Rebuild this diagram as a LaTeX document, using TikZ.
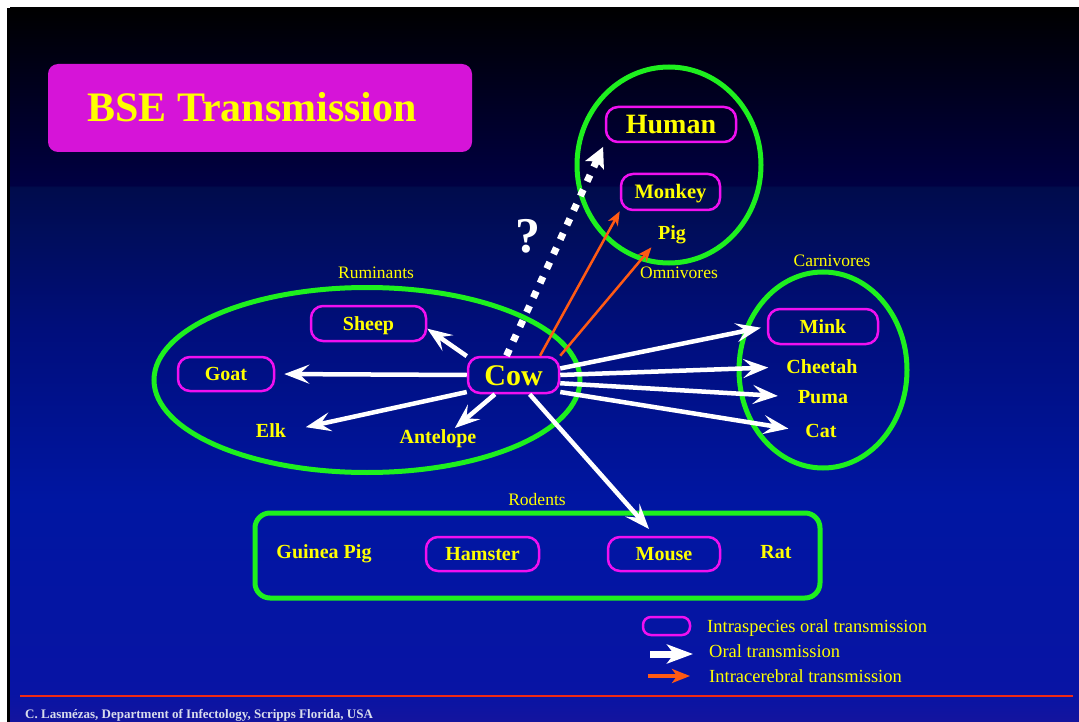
\documentclass[tikz,border=0pt]{standalone}
\usepackage{fontspec}
\setmainfont{Liberation Serif}
\usetikzlibrary{arrows.meta,shapes.geometric}
\definecolor{ylw}{HTML}{FFFF00}
\definecolor{mag}{HTML}{F010F0}
\definecolor{grn}{HTML}{1EF01E}
\definecolor{org}{HTML}{FF5A14}
\definecolor{ttl}{HTML}{D614D8}
\definecolor{redline}{HTML}{F02A14}
\definecolor{foot}{HTML}{D8DCEC}
\definecolor{bA}{HTML}{14149E}
\definecolor{bB}{HTML}{0814A4}
\definecolor{bC}{HTML}{0016A2}
\definecolor{bD}{HTML}{000E7C}
\definecolor{bE}{HTML}{000C4C}
\definecolor{bF}{HTML}{000042}
\definecolor{bG}{HTML}{000000}
\pgfdeclareverticalshading{slidebg}{100bp}{color(0bp)=(bA); color(25bp)=(bA); color(27bp)=(bB); color(40.5bp)=(bC); color(52.4bp)=(bD); color(62.45bp)=(bE); color(62.6bp)=(bF); color(75bp)=(bG); color(100bp)=(bG)}
\tikzset{
  grp/.style={draw=grn, line width=5pt},
  spbox/.style={draw=mag, line width=2.5pt, rounded corners=12pt, inner sep=0pt, text=ylw,
    font=\bfseries\fontsize{20}{24}\selectfont, text height=13.5pt, text depth=0pt},
  animal/.style={text=ylw, font=\bfseries\fontsize{20}{24}\selectfont, inner sep=2pt,
    text height=13.5pt, text depth=0pt},
  grplabel/.style={text=ylw, font=\fontsize{17.5}{20}\selectfont, inner sep=1pt,
    text height=12pt, text depth=0pt},
  legtext/.style={text=ylw, font=\fontsize{18.5}{20}\selectfont, inner sep=0pt, anchor=west,
    text height=12pt, text depth=0pt},
  oral/.style={draw=white, line width=4.5pt, -{Stealth[length=25pt,width=19pt,inset=10pt]}},
  icarrow/.style={draw=org, line width=2.5pt, -{Stealth[length=14pt,width=11pt,inset=4pt]}},
  dotarrow/.style={draw=white, line width=7pt, dash pattern=on 7pt off 9pt,
    -{Stealth[length=20pt,width=20pt,inset=4pt]}}
}
\begin{document}
\begin{tikzpicture}[x=1pt,y=-1pt]
\useasboundingbox (0,0) rectangle (1079,722);
\fill[white] (0,0) rectangle (1079,722);
\fill[black] (7,8) rectangle (1079,722);
\shade[shading=slidebg] (10,8) rectangle (1079,722);

% title
\node[fill=ttl, rounded corners=10pt, minimum width=424pt, minimum height=88pt, inner sep=0pt,
  text=ylw, font=\bfseries\fontsize{42}{44}\selectfont, text height=27.5pt, text depth=0pt]
  (title) at (260,108) {BSE Transmission\hspace*{16pt}};

% groups
\node[grp, ellipse, minimum width=184pt, minimum height=196pt, inner sep=0pt] (omni) at (669,165) {};
\node[grp, ellipse, minimum width=426pt, minimum height=185pt, inner sep=0pt] (rumin) at (367,380) {};
\node[grp, ellipse, minimum width=168pt, minimum height=196pt, inner sep=0pt] (carni) at (823,370) {};
\node[grp, rounded corners=15pt, minimum width=565pt, minimum height=85pt, inner sep=0pt] (rodents) at (537.5,555.5) {};

\node[grplabel] (lomni) at (679,272) {Omnivores};
\node[grplabel] (lrumin) at (376,272) {Ruminants};
\node[grplabel] (lcarni) at (832,260) {Carnivores};
\node[grplabel] (lrod) at (537,499) {Rodents};

% omnivores
\node[spbox, minimum width=130pt, minimum height=35pt, font=\bfseries\fontsize{28}{30}\selectfont,
  text height=18.5pt] (human) at (671,124.5) {Human};
\node[spbox, minimum width=99pt, minimum height=36pt, font=\bfseries\fontsize{20.5}{24}\selectfont] (monkey) at (670.5,192) {Monkey};
\node[animal] (pig) at (672,233) {Pig};

% ruminants
\node[spbox, minimum width=91pt, minimum height=36pt, font=\bfseries\fontsize{30}{32}\selectfont,
  text height=20pt] (cow) at (513.5,375) {Cow};
\node[spbox, minimum width=115pt, minimum height=35pt] (sheep) at (368.5,323.5) {Sheep};
\node[spbox, minimum width=96pt, minimum height=34pt] (goat) at (226,374) {Goat};
\node[animal] (elk) at (271,431) {Elk};
\node[animal] (antelope) at (438,437) {Antelope};

% carnivores
\node[spbox, minimum width=110pt, minimum height=35pt] (mink) at (823,326.5) {Mink};
\node[animal] (cheetah) at (822,367) {Cheetah};
\node[animal] (puma) at (823,397) {Puma};
\node[animal] (cat) at (821,431) {Cat};

% rodents
\node[animal] (guinea) at (324,552) {Guinea Pig};
\node[spbox, minimum width=113pt, minimum height=34pt] (hamster) at (482.5,554) {Hamster};
\node[spbox, minimum width=112pt, minimum height=34pt] (mouse) at (664,554) {Mouse};
\node[animal] (rat) at (776,552) {Rat};

% question mark
\node[text=white, font=\bfseries\fontsize{50}{50}\selectfont, inner sep=0pt, text height=34pt, text depth=0pt]
  (qm) at (528,236) {?};

% oral transmission arrows
\draw[oral] (cow.158) -- (sheep.-5);
\draw[oral, shorten >=9pt] (cow.west) -- (goat.east);
\draw[oral, shorten >=18pt] (cow.200) -- (elk.east);
\draw[oral] (cow.-134) -- (antelope.28);
\draw[oral, shorten >=9pt] (cow.-50) -- ([xshift=-9pt]mouse.north);
\draw[oral, shorten >=6pt] (cow.8) -- (mink.west);
\draw[oral, shorten >=16pt] (cow.east) -- (cheetah.west);
\draw[oral, shorten >=18pt] (cow.-10) -- (puma.west);
\draw[oral, shorten >=15pt] (cow.-20) -- (cat.west);

% intracerebral
\draw[icarrow] (cow.36) -- (monkey.south west);
\draw[icarrow, shorten >=7pt] (cow.north east) -- (pig.south west);

% dotted question arrow
\draw[dotarrow, shorten >=4pt] (cow.110) -- (human.south west);

% legend
\node[draw=mag, line width=2.5pt, rounded corners=8pt, minimum width=47pt, minimum height=18pt, inner sep=0pt]
  (legbox) at (666.5,626) {};
\coordinate (lwa) at (650,654);
\coordinate (lwb) at (693,654);
\coordinate (loa) at (648,676);
\coordinate (lob) at (690,676);
\draw[draw=white, line width=7pt, -{Stealth[length=26pt,width=19pt,inset=7pt]}] (lwa) -- (lwb);
\draw[draw=org, line width=4pt, -{Stealth[length=18pt,width=14pt,inset=5pt]}] (loa) -- (lob);
\node[legtext] (leg1) at (707,626) {Intraspecies oral transmission};
\node[legtext] (leg2) at (709,651) {Oral transmission};
\node[legtext] (leg3) at (709,676) {Intracerebral transmission};

% footer
\coordinate (fla) at (20,696);
\coordinate (flb) at (1073,696);
\draw[redline, line width=2pt] (fla) -- (flb);
\node[anchor=west, text=foot, font=\bfseries\fontsize{13}{14}\selectfont, inner sep=0pt,
  text height=8.6pt, text depth=0pt] (footer) at (25,714) {C. Lasmézas, Department of Infectology, Scripps Florida, USA};
\end{tikzpicture}
\end{document}
